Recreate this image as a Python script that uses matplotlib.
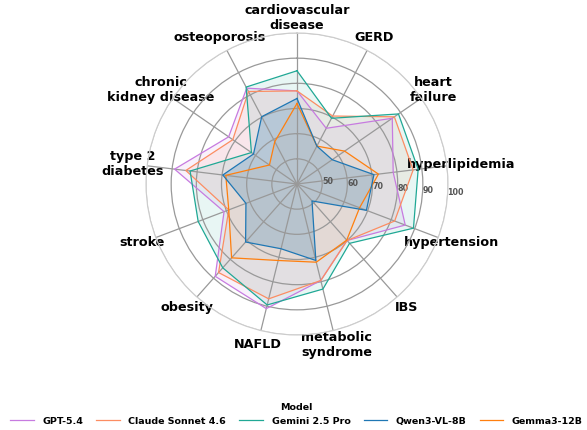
import numpy as np
import matplotlib
matplotlib.use('Agg')
import matplotlib.pyplot as plt

plt.rc('font', family='DejaVu Sans')

# categories clockwise from top
categories = ['cardiovascular\ndisease', 'GERD', 'heart\nfailure', 'hyperlipidemia',
              'hypertension', 'IBS', 'metabolic\nsyndrome', 'NAFLD', 'obesity',
              'stroke', 'type 2\ndiabetes', 'chronic\nkidney disease', 'osteoporosis']

models = ['GPT-5.4', 'Claude Sonnet 4.6', 'Gemini 2.5 Pro', 'Qwen3-VL-8B', 'Gemma3-12B']
gpt54 = [77, 65, 86, 78.5, 86, 70, 79.5, 91, 89, 71, 89, 73, 83]
claude46 = [77, 70.5, 87, 86.5, 81.5, 70, 79.5, 87, 87, 69, 84.5, 71, 81.5]
gemini25 = [85, 69.5, 89, 88.5, 89.5, 71.5, 83, 89.5, 84.5, 82, 82.8, 62, 83.5]
qwen3vl = [74, 57, 57, 70.8, 69.5, 49, 71.3, 66.5, 70.8, 61.7, 69.7, 61, 70.2]
gemma3 = [72, 57, 63, 72.6, 66.6, 69.8, 72, 71.3, 79.2, 69, 68.5, 53.3, 59]
scores = [gpt54, claude46, gemini25, qwen3vl, gemma3]
colors = ['#c77be0', '#fc8d62', '#20a895', '#1f77b4', '#ff7f0e']
fill_alpha = [0.1, 0.1, 0.1, 0.22, 0.06]
draw_order = [0, 1, 2, 4, 3]

r_ticks = [50, 60, 70, 80, 90, 100]

n = len(categories)
angles = np.linspace(0, 2 * np.pi, n, endpoint=False)
closed = np.concatenate([angles, angles[:1]])

fig = plt.figure(figsize=(5.87, 4.30), dpi=100)
ax = fig.add_axes([146 / 587, 95 / 430, 302 / 587, 302 / 430], polar=True)
ax.set_theta_offset(np.pi / 2)
ax.set_theta_direction(-1)

handles = {}
for i in draw_order:
    v = np.concatenate([scores[i], scores[i][:1]])
    ln, = ax.plot(closed, v, color=colors[i], linewidth=0.9, label=models[i])
    ax.fill(closed, v, color=colors[i], alpha=fill_alpha[i], linewidth=0)
    handles[i] = ln

ax.set_ylim(40, 100)
ax.set_yticks(r_ticks)
ax.set_yticklabels([str(t) for t in r_ticks], fontsize=5.8, fontweight='bold', color='#555555')
ax.set_rlabel_position(95)
ax.set_xticks(angles)
ax.set_xticklabels(categories, fontsize=9.2, fontweight='bold')
ax.tick_params(axis='x', pad=0)
ax.grid(color='#999999', linewidth=0.9)
ax.yaxis.get_gridlines()[-1].set_color('#cccccc')
ax.spines['polar'].set_color('#cccccc')
ax.spines['polar'].set_linewidth(0.8)

fig.legend([handles[i] for i in range(5)], models,
           loc='lower center', bbox_to_anchor=(0.505, -0.01), ncol=5, frameon=False,
           title='Model', prop={'size': 6.8, 'weight': 'bold'},
           title_fontproperties={'size': 6.8, 'weight': 'bold'},
           handlelength=2.5, handletextpad=0.9, columnspacing=1.4)

fig.savefig('out.png', dpi=100)
